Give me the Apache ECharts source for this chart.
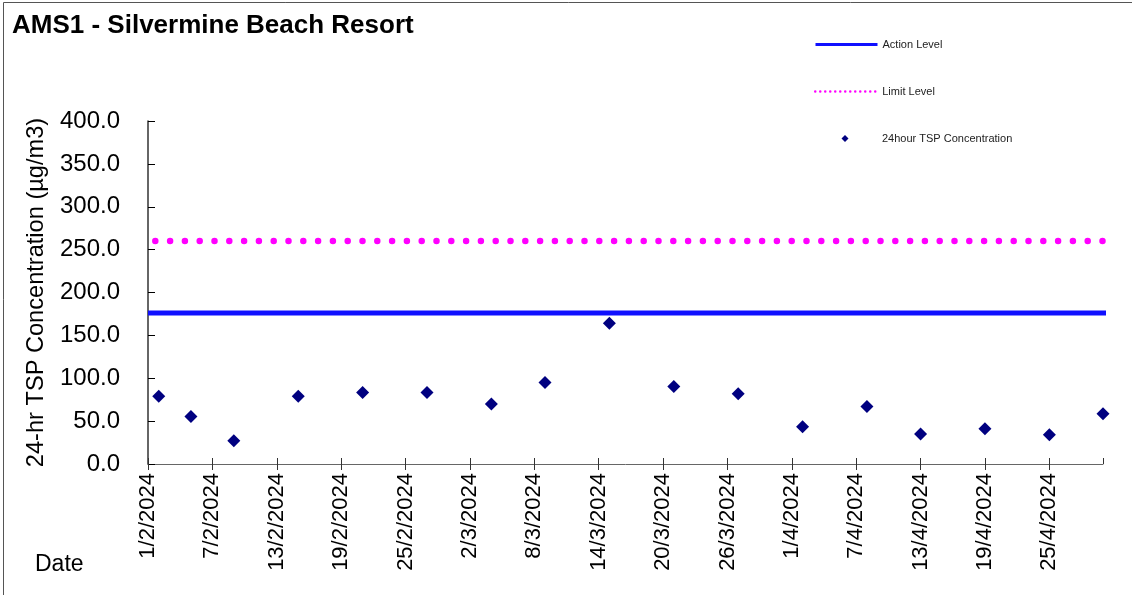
<!DOCTYPE html>
<html>
<head>
<meta charset="utf-8">
<script src="https://cdn.jsdelivr.net/npm/echarts@6/dist/echarts.min.js"></script>
<style>
  html, body { margin: 0; padding: 0; background: #fff; }
  #chart { width: 1132px; height: 595px; }
</style>
</head>
<body>
<div id="chart"></div>
<script>
  // sampling dates (d/m/yyyy) and 24hr TSP values
  const sampleDates = ['2/2/2024', '5/2/2024', '9/2/2024', '15/2/2024', '21/2/2024', '27/2/2024',
    '4/3/2024', '9/3/2024', '15/3/2024', '21/3/2024', '27/3/2024', '2/4/2024', '8/4/2024',
    '13/4/2024', '19/4/2024', '25/4/2024', '30/4/2024'];
  const tspValues = [79, 55.5, 27, 79, 83.5, 83.5, 70, 95, 164, 90.5, 82, 43.5, 67, 35, 41, 34, 58.5];
  const actionLevel = 176;
  const limitLevel = 260;
  const axisStart = '1/2/2024';
  const axisEnd = '30/4/2024';

  const DAY = 24 * 3600 * 1000;
  function parseDate(s) {
    const p = s.split('/');
    return Date.UTC(+p[2], +p[1] - 1, +p[0]);
  }
  const t0 = parseDate(axisStart);
  // days since axis start
  function dayNo(s) {
    return Math.round((parseDate(s) - t0) / DAY);
  }
  function dayLabel(v) {
    const d = new Date(t0 + v * DAY);
    return d.getUTCDate() + '/' + (d.getUTCMonth() + 1) + '/' + d.getUTCFullYear();
  }

  const xMin = dayNo(axisStart), xMax = dayNo(axisEnd);
  const scatterData = sampleDates.map((d, i) => [dayNo(d), tspValues[i]]);

  const chart = echarts.init(document.getElementById('chart'));
  const font = 'Arial, "Liberation Sans", sans-serif';

  const legendBase = {
    orient: 'vertical',
    left: 814,
    padding: 0,
    itemWidth: 62,
    itemGap: 0,
    textStyle: { fontSize: 11, color: '#222', fontFamily: font },
    selectedMode: false
  };

  let option = {
    animation: false,
    backgroundColor: '#fff',
    title: {
      text: 'AMS1 - Silvermine Beach Resort',
      left: 7,
      top: 8,
      textStyle: { fontSize: 26, fontWeight: 'bold', color: '#000', fontFamily: font }
    },
    legend: [
      Object.assign({}, legendBase, {
        top: 39, itemHeight: 10, data: ['Action Level'],
        lineStyle: { width: 3 }, itemStyle: { opacity: 0 }
      }),
      Object.assign({}, legendBase, {
        top: 86, itemHeight: 10, data: ['Limit Level'],
        lineStyle: { width: 2.5, type: [0, 5], cap: 'round', dashOffset: 0 }, itemStyle: { opacity: 0 }
      }),
      Object.assign({}, legendBase, {
        top: 133, left: 841.5, itemWidth: 7, itemHeight: 7, icon: 'diamond',
        itemStyle: { color: '#000080', opacity: 1 },
        textStyle: { fontSize: 11, color: '#222', fontFamily: font, padding: [0, 0, 0, 28.5] },
        data: ['24hour TSP Concentration']
      })
    ],
    graphic: [
      {
        type: 'rect',
        shape: { x: 3.5, y: 2.5, width: 1140, height: 600 },
        style: { fill: null, stroke: '#555', lineWidth: 1 },
        silent: true
      },
      {
        type: 'text',
        left: 35,
        top: 553,
        style: { text: 'Date', fill: '#000', font: '23px ' + font }
      }
    ],
    grid: { left: 148, right: 29, top: 121, bottom: 131, containLabel: false },
    xAxis: [{
      type: 'value',
      min: xMin,
      max: xMax,
      interval: 6,
      axisLine: { show: true, lineStyle: { color: '#666', width: 1 } },
      axisTick: { show: true, length: 6, lineStyle: { color: '#333' } },
      axisLabel: {
        rotate: 90,
        margin: 9,
        fontSize: 22,
        color: '#000',
        fontFamily: font,
        showMaxLabel: false,
        formatter: v => dayLabel(v)
      },
      splitLine: { show: false }
    }, {
      type: 'value',
      position: 'bottom',
      min: xMin,
      max: xMax,
      interval: 6,
      axisLine: { show: false },
      axisTick: { show: true, inside: true, length: 6, lineStyle: { color: '#333' } },
      axisLabel: { show: false },
      splitLine: { show: false }
    }],
    yAxis: {
      type: 'value',
      min: 0,
      max: 400,
      interval: 50,
      name: '24-hr TSP Concentration (µg/m3)',
      nameLocation: 'middle',
      nameGap: 100,
      nameTextStyle: { fontSize: 23.6, color: '#000', fontFamily: font },
      axisLine: { show: true, lineStyle: { color: '#333', width: 1.5 } },
      axisTick: { show: true, inside: true, length: 7, lineStyle: { color: '#000' } },
      axisLabel: {
        margin: 28,
        fontSize: 24,
        color: '#000',
        fontFamily: font,
        formatter: v => v.toFixed(1)
      },
      splitLine: { show: false }
    },
    series: [
      {
        name: 'Action Level',
        type: 'line',
        symbol: 'none',
        data: [[xMin, actionLevel], [xMax + 0.3, actionLevel]],
        lineStyle: { color: '#1010ff', width: 5 },
        itemStyle: { color: '#1010ff' },
        z: 2
      },
      {
        name: 'Limit Level',
        type: 'line',
        symbol: 'none',
        data: [[xMin, limitLevel], [xMax + 0.3, limitLevel]],
        lineStyle: { color: '#ff00ff', width: 6.5, type: [0, 14.8], cap: 'round', dashOffset: 7.5 },
        itemStyle: { color: '#ff00ff' },
        z: 2
      },
      {
        name: '24hour TSP Concentration',
        type: 'scatter',
        symbol: 'diamond',
        symbolSize: 13,
        data: scatterData,
        itemStyle: { color: '#000080', opacity: 1 },
        z: 3
      }
    ]
  };
  chart.setOption(option);
</script>
</body>
</html>
